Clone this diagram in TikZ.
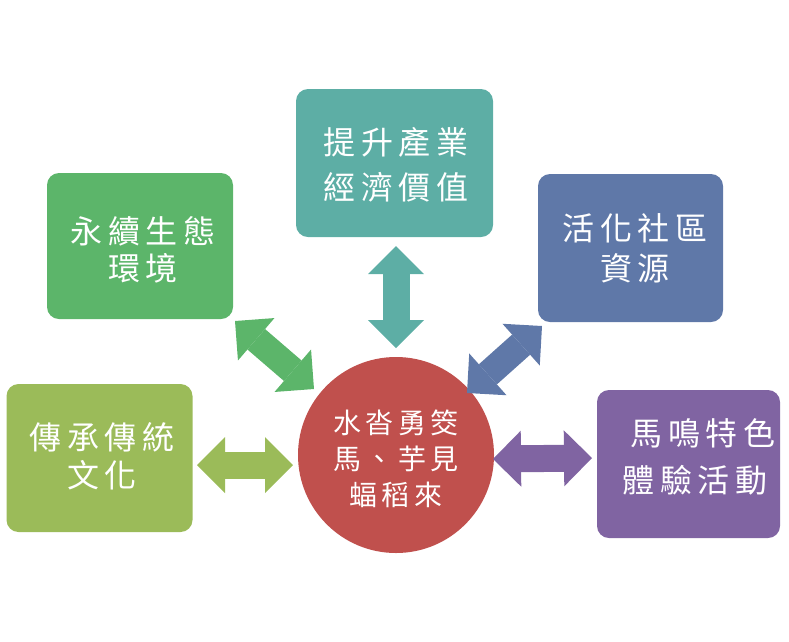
\documentclass[tikz,border=0pt]{standalone}
\usepackage{fontspec}
\newfontfamily\cjkbox[LetterSpace=18]{Noto Sans CJK TC}
\newfontfamily\cjkhub[LetterSpace=15]{Noto Sans CJK TC}
\newcommand\bxf[1]{\cjkbox\fontsize{32pt}{#1pt}\selectfont}
\newcommand\hbf[1]{\cjkhub\fontsize{28pt}{#1pt}\selectfont}
\usetikzlibrary{arrows.meta}
\definecolor{cteal}{HTML}{5DAEA5}
\definecolor{cgreen}{HTML}{5CB56A}
\definecolor{cblue}{HTML}{5F78A8}
\definecolor{cygreen}{HTML}{9BBB59}
\definecolor{cpurple}{HTML}{8064A2}
\definecolor{cred}{HTML}{C0504D}
\tikzset{
  box/.style={rectangle, rounded corners=12pt, inner sep=0pt, draw=none, fill=#1},
  lbl/.style={text=white, align=center, inner sep=0pt},
  blockarrow/.style={draw=#1, line width=27pt,
    {Triangle[length=28pt,width=56pt,line width=0pt]}-{Triangle[length=28pt,width=56pt,line width=0pt]}}
}
\begin{document}
\begin{tikzpicture}[x=1pt,y=-1pt]
\useasboundingbox (0,0) rectangle (789,641);
% boxes
\node[box=cteal, minimum width=197pt, minimum height=148pt] (teal) at (394.5,163) {};
\node[box=cgreen, minimum width=186pt, minimum height=146pt] (green) at (140,246) {};
\node[box=cblue, minimum width=185pt, minimum height=148pt] (blue) at (630.5,248) {};
\node[box=cygreen, minimum width=186pt, minimum height=148pt] (ygreen) at (99.5,458) {};
\node[box=cpurple, minimum width=183pt, minimum height=148pt] (purple) at (688.5,464) {};
\node[circle, fill=cred, minimum size=196pt, inner sep=0pt] (hub) at (396,455) {};
% texts
\node[lbl, font=\bxf{45}] (teal-t) at (396,164.5) {提升產業\\經濟價值};
\node[lbl, font=\bxf{37}] (green-t) at (143,250) {永續生態\\環境};
\node[lbl, font=\bxf{40}] (blue-t) at (635,248) {活化社區\\資源};
\node[lbl, font=\bxf{38}] (ygreen-t) at (102,456) {傳承傳統\\文化};
\node[lbl, font=\bxf{47}] (purple-t) at (695,456.5) {\hspace*{16pt}馬鳴特色\\體驗活動};
\node[lbl, font=\hbf{36}] (hub-t) at (396,459) {水沓勇筊\\馬、芋見\\蝠稻來};
% arrow end points
\coordinate (a1) at (396,246);  \coordinate (b1) at (396,348);
\coordinate (a2) at (235,321);  \coordinate (b2) at (314,389);
\coordinate (a3) at (542,326);  \coordinate (b3) at (467,393);
\coordinate (a4) at (197,465);  \coordinate (b4) at (293,465);
\coordinate (a5) at (493,459);  \coordinate (b5) at (592,458);
\draw[blockarrow=cteal] (a1) -- (b1);
\draw[blockarrow=cgreen] (a2) -- (b2);
\draw[blockarrow=cblue] (a3) -- (b3);
\draw[blockarrow=cygreen] (a4) -- (b4);
\draw[blockarrow=cpurple] (a5) -- (b5);
\end{tikzpicture}
\end{document}
